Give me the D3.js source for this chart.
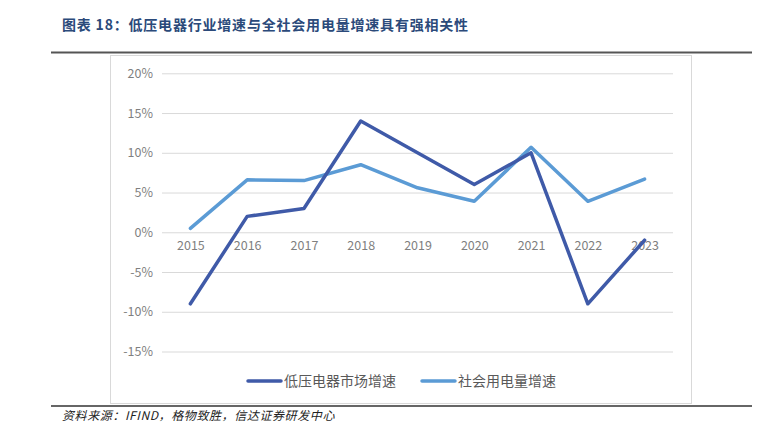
<!DOCTYPE html>
<html><head><meta charset="utf-8">
<script src="https://cdnjs.cloudflare.com/ajax/libs/d3/7.8.5/d3.min.js"></script>
<style>body{margin:0;background:#fff;}svg{display:block;}</style>
</head><body>
<svg id="c" width="773" height="433"></svg>
<script>
const years = ["2015","2016","2017","2018","2019","2020","2021","2022","2023"];
const lowVoltage = [-9, 2, 3, 14, 10, 6, 10, -9, -1];
const powerUse = [0.5, 6.6, 6.5, 8.5, 5.6, 3.9, 10.7, 3.9, 6.7];
const yTicks = [-15, -10, -5, 0, 5, 10, 15, 20];
const seriesNames = ["低压电器市场增速", "社会用电量增速"];
const colors = ["#3F5AA8", "#5B9BD5"];

const svg = d3.select("#c");
const font = "'Noto Sans CJK SC','Noto Sans',sans-serif";

svg.append("text").attr("x", 62).attr("y", 30)
  .attr("font-family", font).attr("font-size", 14).attr("font-weight", "bold")
  .attr("letter-spacing", 0.8).attr("fill", "#2B4A7A")
  .text("图表 18：低压电器行业增速与全社会用电量增速具有强相关性");

svg.append("line").attr("x1", 51).attr("x2", 752).attr("y1", 52.5).attr("y2", 52.5)
  .attr("stroke", "#555").attr("stroke-width", 2);
svg.append("rect").attr("x", 110.5).attr("y", 55.5).attr("width", 581).attr("height", 348)
  .attr("fill", "#fff").attr("stroke", "#d9d9d9").attr("stroke-width", 1);
svg.append("line").attr("x1", 51).attr("x2", 752).attr("y1", 406).attr("y2", 406)
  .attr("stroke", "#333").attr("stroke-width", 1.5);

svg.append("text").attr("x", 62).attr("y", 420)
  .attr("font-family", font).attr("font-size", 12).attr("font-style", "italic")
  .attr("letter-spacing", 0.6).attr("fill", "#222")
  .text("资料来源：IFIND，格物致胜，信达证券研发中心");

const x = d3.scalePoint().domain(years).range([162, 673]).padding(0.5);
const y = d3.scaleLinear().domain([-15, 20]).range([351.5, 73.3]);

const g = svg.append("g");
// grid
g.append("g").attr("transform", "translate(162,0)")
  .call(d3.axisLeft(y).tickValues(yTicks).tickSize(-511).tickFormat(""))
  .call(s => s.select(".domain").remove())
  .call(s => s.selectAll("line").attr("stroke", "#d9d9d9").attr("stroke-width", 1));
// y labels
g.append("g").attr("transform", "translate(153,0)")
  .call(d3.axisLeft(y).tickValues(yTicks).tickSize(0).tickPadding(0).tickFormat(d => d + "%"))
  .call(s => s.select(".domain").remove())
  .call(s => s.selectAll("text").attr("font-family", font).attr("font-size", 12.5).attr("fill", "#7f7f7f"));
// x labels at zero line
g.append("g").attr("transform", `translate(0,${y(0)})`)
  .call(d3.axisBottom(x).tickSize(0).tickPadding(9))
  .call(s => s.select(".domain").remove())
  .call(s => s.selectAll("text").attr("font-family", font).attr("font-size", 12.5).attr("fill", "#7f7f7f"));

const line = d3.line().x((d, i) => x(years[i])).y(d => y(d));
[powerUse, lowVoltage].forEach((arr, k) => {
  const ci = k === 0 ? 1 : 0;
  g.append("path").datum(arr).attr("d", line).attr("fill", "none")
    .attr("stroke", colors[ci]).attr("stroke-width", 3.5)
    .attr("stroke-linejoin", "round").attr("stroke-linecap", "round");
});

// legend
const leg = [{x: 248, tx: 284}, {x: 422, tx: 458}];
seriesNames.forEach((n, i) => {
  svg.append("line").attr("x1", leg[i].x).attr("x2", leg[i].x + 33).attr("y1", 381).attr("y2", 381)
    .attr("stroke", colors[i]).attr("stroke-width", 3.5).attr("stroke-linecap", "round");
  svg.append("text").attr("x", leg[i].tx).attr("y", 386)
    .attr("font-family", font).attr("font-size", 14).attr("fill", "#595959").text(n);
});
</script>
</body></html>
